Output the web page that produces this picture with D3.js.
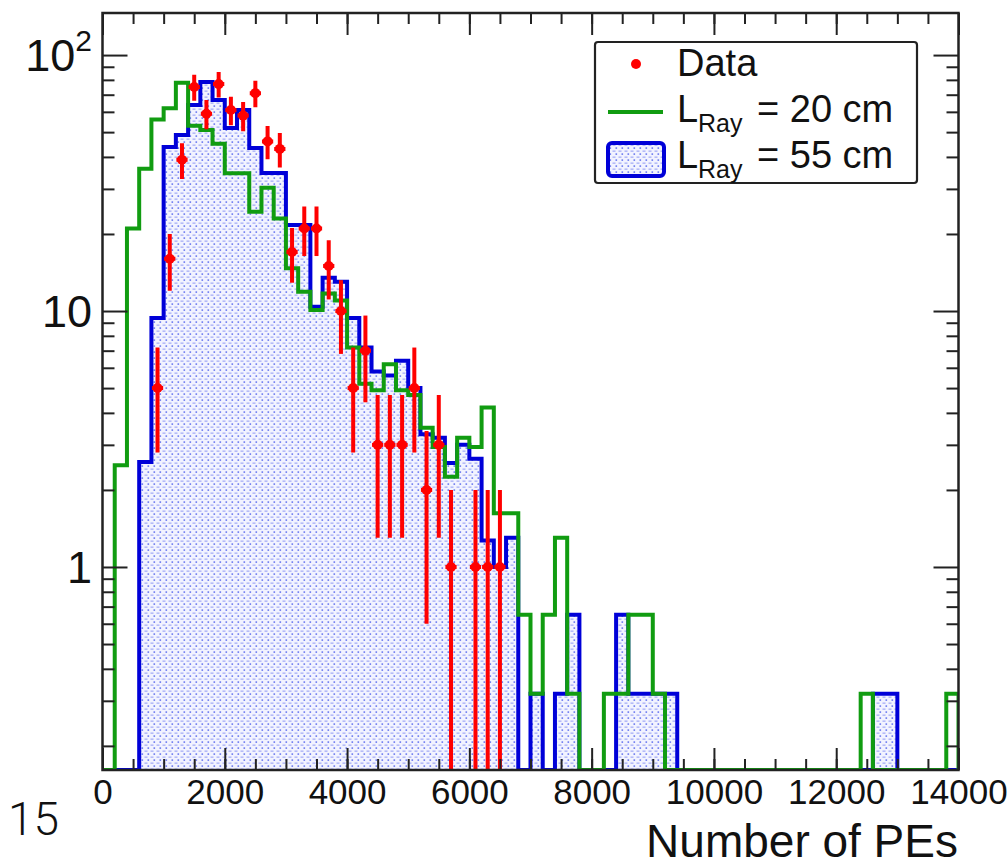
<!DOCTYPE html>
<html>
<head>
<meta charset="utf-8">
<script src="https://cdn.jsdelivr.net/npm/d3@7"></script>
<style>
  body { margin: 0; background: #fff; }
  svg { display: block; font-family: "Liberation Sans", Arial, Helvetica, sans-serif; }
</style>
</head>
<body>
<svg width="1008" height="866"></svg>
<script>
// 70 bins of 200 PEs, 0 .. 14000
var binWidth = 200, nBins = 70;

// MC, L_Ray = 20 cm (green outline), one value per bin
var lray20 = [0, 2.5, 21, 36, 56, 62, 78, 53, 51, 45,
              34.5, 34.5, 24.4, 30.3, 23, 14.7, 11.9, 10.1, 11.7, 11,
              7.2, 5.2, 4.9, 6.2, 4.9, 4.7, 3.5, 2.94, 2.25, 3.2,
              2.94, 4.2, 1.62, 1.62, 0.65, 0.32, 0.65, 1.3, 0.32, 0,
              0, 0.32, 0.32, 0.65, 0.65, 0.32, 0, 0, 0, 0,
              0, 0, 0, 0, 0, 0, 0, 0, 0, 0,
              0, 0, 0.32, 0, 0, 0, 0, 0, 0, 0.32];

// MC, L_Ray = 55 cm (blue, hatched fill)
var lray55 = [0, 0, 0, 2.57, 9.4, 43.7, 48.7, 63.8, 78.5, 66.7,
              51.9, 61, 43.3, 34.6, 34.6, 21.7, 21.7, 10.4, 13.5, 13,
              9.4, 7.2, 5.8, 5.6, 6.4, 5.0, 3.3, 3.2, 2.55, 3.0,
              2.65, 1.27, 1.0, 1.3, 0, 0.32, 0, 0.32, 0.65, 0,
              0, 0, 0.65, 0.32, 0.32, 0.32, 0.32, 0, 0, 0,
              0, 0, 0, 0, 0, 0, 0, 0, 0, 0,
              0, 0, 0, 0.32, 0.32, 0, 0, 0, 0, 0];

// Data points: bin index, counts, error
var dataBin = [4, 5, 6, 7, 8, 9, 10, 11, 12, 13, 14, 15, 16, 17, 18, 19,
               20, 21, 22, 23, 24, 25, 26, 27, 28, 30, 31, 32];
var dataVal = [5, 16, 39, 75, 59, 77, 61, 58, 71, 46, 43, 17, 21, 21, 15, 10,
               5, 7, 3, 3, 3, 5, 2, 3, 1, 1, 1, 1];
var dataErr = [2.2, 4, 6.2, 8.7, 7.7, 8.8, 7.8, 7.6, 8.4, 6.8, 6.6, 4.1, 4.6, 4.6, 3.9, 3.2,
               2.2, 2.6, 1.7, 1.7, 1.7, 2.2, 1.4, 1.7, 1, 1, 1, 1];

var xTicks = [0, 2000, 4000, 6000, 8000, 10000, 12000, 14000];
var xMinor = d3.range(0, 14001, 500);
var yTicks = [1, 10, 100];
var yTickBase = ["1", "10", "10"];
var yTickExp = ["", "", "2"];
var yMinor = [0.2, 0.3, 0.4, 0.5, 0.6, 0.7, 0.8, 0.9, 2, 3, 4, 5, 6, 7, 8, 9,
              20, 30, 40, 50, 60, 70, 80, 90];

var legendLabels = ["Data", "= 20 cm", "= 55 cm"];
var green = "#119c11", blue = "#0000d8", red = "#ff0000", ink = "#222";

var svg = d3.select("svg");
var x = d3.scaleLinear().domain([0, nBins * binWidth]).range([102.5, 958.5]);
var y = d3.scaleLog().domain([0.161, 146]).range([770, 13]);
var yb = y.range()[0], yt = y.range()[1];
function yv(v) { return v > 0 ? Math.min(y(v), yb) : yb; }

var defs = svg.append("defs");
var pat = defs.append("pattern").attr("id", "dots")
  .attr("patternUnits", "userSpaceOnUse").attr("width", 6).attr("height", 6);
pat.append("rect").attr("width", 6).attr("height", 6).attr("fill", "#f2f3ff");
pat.append("rect").attr("x", 0.5).attr("y", 0.5).attr("width", 3).attr("height", 1.3).attr("fill", "#a6aef6");
pat.append("rect").attr("x", 3.5).attr("y", 3.3).attr("width", 1.6).attr("height", 1.6).attr("fill", "#6a78f0");

defs.append("clipPath").attr("id", "plot").append("rect")
  .attr("x", x.range()[0]).attr("y", yt)
  .attr("width", x.range()[1] - x.range()[0]).attr("height", yb - yt);

function stepPoints(vals) {
  var pts = [[x(0), yb]];
  vals.forEach(function(v, i) {
    pts.push([x(i * binWidth), yv(v)]);
    pts.push([x((i + 1) * binWidth), yv(v)]);
  });
  pts.push([x(nBins * binWidth), yb]);
  return pts;
}
var line = d3.line();

var g = svg.append("g").attr("clip-path", "url(#plot)");

// blue filled histogram
g.append("path").attr("d", line(stepPoints(lray55)) + "Z")
  .attr("fill", "url(#dots)").attr("stroke", "none");
g.append("path").attr("d", line(stepPoints(lray55)))
  .attr("fill", "none").attr("stroke", blue).attr("stroke-width", 4)
  .attr("stroke-linejoin", "miter");

// green outline
g.append("path").attr("d", line(stepPoints(lray20)))
  .attr("fill", "none").attr("stroke", green).attr("stroke-width", 4)
  .attr("stroke-linejoin", "miter");

// data points with error bars
var pts = g.selectAll(".pt").data(dataBin).enter().append("g").attr("class", "pt");
pts.append("line")
  .attr("x1", function(b) { return x((b + 0.5) * binWidth); })
  .attr("x2", function(b) { return x((b + 0.5) * binWidth); })
  .attr("y1", function(b, i) { return yv(dataVal[i] + dataErr[i]); })
  .attr("y2", function(b, i) { return yv(dataVal[i] - dataErr[i]); })
  .attr("stroke", red).attr("stroke-width", 4);
pts.append("line")
  .attr("x1", function(b) { return x(b * binWidth) + 0.5; })
  .attr("x2", function(b) { return x((b + 1) * binWidth) - 0.5; })
  .attr("y1", function(b, i) { return yv(dataVal[i]); })
  .attr("y2", function(b, i) { return yv(dataVal[i]); })
  .attr("stroke", red).attr("stroke-width", 4);
pts.append("circle")
  .attr("cx", function(b) { return x((b + 0.5) * binWidth); })
  .attr("cy", function(b, i) { return yv(dataVal[i]); })
  .attr("r", 5).attr("fill", red);

// frame
svg.append("rect").attr("x", x.range()[0]).attr("y", yt)
  .attr("width", x.range()[1] - x.range()[0]).attr("height", yb - yt)
  .attr("fill", "none").attr("stroke", ink).attr("stroke-width", 2.5);

function axisStyle(sel) {
  sel.select(".domain").remove();
  sel.selectAll("line").attr("stroke", ink).attr("stroke-width", 2);
}

// x axis ticks (inside, bottom and top)
svg.append("g").attr("transform", "translate(0," + yb + ")")
  .call(d3.axisBottom(x).tickValues(xMinor).tickSize(-11).tickFormat(""))
  .call(axisStyle);
svg.append("g").attr("transform", "translate(0," + yt + ")")
  .call(d3.axisTop(x).tickValues(xMinor).tickSize(-11).tickFormat(""))
  .call(axisStyle);
svg.append("g").attr("transform", "translate(0," + yt + ")")
  .call(d3.axisTop(x).tickValues(xTicks).tickSize(-22).tickFormat(""))
  .call(axisStyle);
var xa = svg.append("g").attr("transform", "translate(0," + yb + ")")
  .call(d3.axisBottom(x).tickValues(xTicks).tickSize(-22).tickPadding(9).tickFormat(d3.format("d")))
  .call(axisStyle);
xa.selectAll("text").attr("font-size", 35).attr("fill", "#111")
  .attr("font-family", "'Liberation Sans', Arial, sans-serif");

// y axis ticks (inside, left and right)
[[d3.axisLeft, x.range()[0]], [d3.axisRight, x.range()[1]]].forEach(function(a) {
  svg.append("g").attr("transform", "translate(" + a[1] + ",0)")
    .call(a[0](y).tickValues(yMinor).tickSize(-12).tickFormat(""))
    .call(axisStyle);
  svg.append("g").attr("transform", "translate(" + a[1] + ",0)")
    .call(a[0](y).tickValues(yTicks).tickSize(-25).tickFormat(""))
    .call(axisStyle);
});

// y tick labels (10 with superscript)
var yl = svg.selectAll(".ylab").data(yTicks).enter().append("text")
  .attr("class", "ylab")
  .attr("x", 92).attr("y", function(d) { return y(d) + 16; })
  .attr("text-anchor", "end").attr("font-size", 45).attr("fill", "#111");
yl.append("tspan").text(function(d, i) { return yTickBase[i]; });
yl.append("tspan").attr("font-size", 30).attr("dy", -20)
  .text(function(d, i) { return yTickExp[i]; });

// axis title
svg.append("text").attr("x", 958).attr("y", 857).attr("text-anchor", "end")
  .attr("font-size", 46).attr("fill", "#111").text("Number of PEs");

// page number
svg.append("text").attr("x", 8).attr("y", 835)
  .attr("font-family", "Roboto, 'Open Sans', sans-serif").attr("font-weight", 300)
  .attr("font-size", 46).attr("fill", "#111").text("15");

// legend
var lg = svg.append("g");
lg.append("rect").attr("x", 595).attr("y", 42).attr("width", 322).attr("height", 141)
  .attr("rx", 3).attr("fill", "#fff").attr("stroke", ink).attr("stroke-width", 2.2);
lg.append("circle").attr("cx", 636).attr("cy", 64).attr("r", 5).attr("fill", red);
lg.append("line").attr("x1", 608).attr("x2", 663).attr("y1", 112).attr("y2", 112)
  .attr("stroke", green).attr("stroke-width", 4);
lg.append("rect").attr("x", 608).attr("y", 143).attr("width", 56).attr("height", 33)
  .attr("rx", 4).attr("fill", "url(#dots)").attr("stroke", blue).attr("stroke-width", 4);
var rowsY = [76, 122, 168];
lg.append("text").attr("x", 677).attr("y", rowsY[0]).attr("font-size", 38)
  .attr("fill", "#111").text(legendLabels[0]);
[1, 2].forEach(function(k) {
  lg.append("text").attr("x", 677).attr("y", rowsY[k]).attr("font-size", 38)
    .attr("fill", "#111").text("L");
  lg.append("text").attr("x", 698).attr("y", rowsY[k] + 10).attr("font-size", 25)
    .attr("fill", "#111").text("Ray");
  lg.append("text").attr("x", 757).attr("y", rowsY[k]).attr("font-size", 38)
    .attr("fill", "#111").text(legendLabels[k]);
});
</script>
</body>
</html>
